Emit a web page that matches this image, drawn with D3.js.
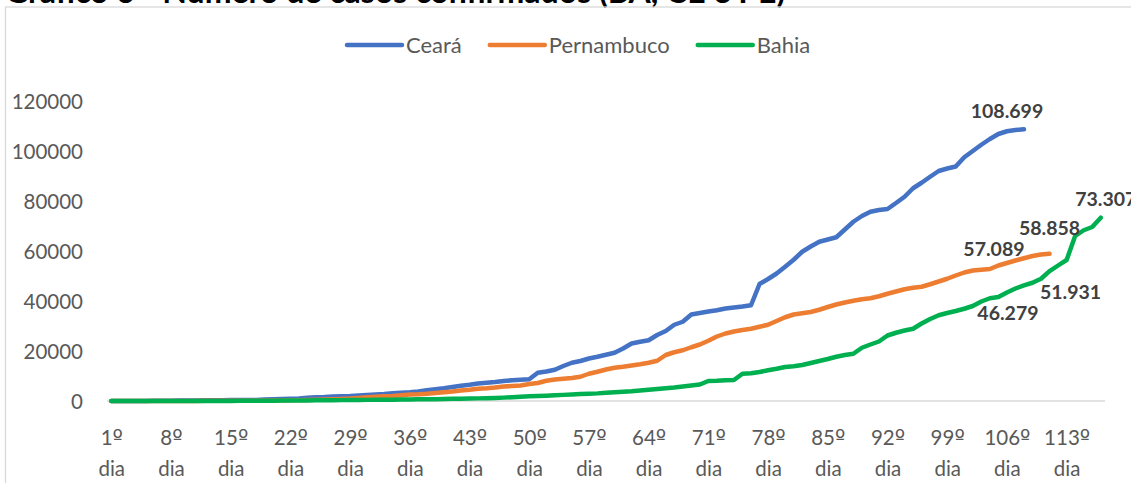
<!DOCTYPE html>
<html>
<head>
<meta charset="utf-8">
<script src="https://cdn.jsdelivr.net/npm/d3@7"></script>
<style>
  html, body { margin: 0; padding: 0; background: #ffffff; }
  svg { display: block; }
  text { font-family: Lato, "Open Sans", sans-serif; }
</style>
</head>
<body>
<svg id="chart" width="1131" height="483"></svg>
<script>
// Dias desde o primeiro caso (eixo de categorias)
const days = d3.range(1, 118);

// Rótulos do eixo X (a cada 7 dias)
const tickDays = [1, 8, 15, 22, 29, 36, 43, 50, 57, 64, 71, 78, 85, 92, 99, 106, 113];
const tickLabels = ["1º", "8º", "15º", "22º", "29º", "36º", "43º", "50º", "57º",
                    "64º", "71º", "78º", "85º", "92º", "99º", "106º", "113º"];
const tickSuffix = "dia";

// Rótulos do eixo Y
const yTicks = [0, 20000, 40000, 60000, 80000, 100000, 120000];

const seriesNames = ["Ceará", "Pernambuco", "Bahia"];
const seriesColors = ["#4472C4", "#ED7D31", "#00B050"];

// Casos confirmados acumulados por dia
const ceara = [
  3, 9, 10, 20, 24, 68, 84, 125, 163, 200,
  235, 282, 314, 348, 372, 390, 400, 445, 560, 700,
  820, 950, 1050, 1300, 1500, 1600, 1800, 1900, 2000, 2200,
  2400, 2600, 2800, 3100, 3300, 3500, 3800, 4300, 4700, 5100,
  5600, 6100, 6500, 7000, 7300, 7600, 8000, 8300, 8500, 8700,
  11300, 11800, 12500, 14000, 15300, 16000, 17000, 17700, 18500, 19300,
  21000, 23000, 23700, 24300, 26400, 28000, 30500, 31700, 34600, 35200,
  35800, 36300, 37000, 37400, 37800, 38300, 46800, 48800, 51000, 53700,
  56500, 59700, 61800, 63700, 64600, 65500, 68600, 71700, 74000, 75700,
  76400, 76800, 79200, 81700, 85100, 87300, 89700, 92000, 93000, 93800,
  97500, 100000, 102500, 104800, 106800, 107900, 108400, 108699
];

const pernambuco = [
  2, 2, 7, 16, 18, 28, 30, 33, 37, 42,
  46, 56, 68, 73, 78, 85, 97, 102, 130, 160,
  220, 300, 350, 400, 480, 560, 690, 800, 960, 1200,
  1500, 1700, 1900, 2000, 2300, 2600, 2700, 2900, 3200, 3500,
  3800, 4200, 4500, 4900, 5100, 5400, 5800, 6000, 6200, 6800,
  7200, 8100, 8600, 8900, 9200, 9700, 10900, 11700, 12600, 13300,
  13700, 14200, 14700, 15300, 16100, 18400, 19500, 20300, 21500, 22600,
  24100, 25800, 27000, 27800, 28400, 28900, 29700, 30500, 32000, 33500,
  34600, 35100, 35600, 36500, 37600, 38600, 39400, 40100, 40700, 41100,
  41900, 42900, 43800, 44700, 45300, 45700, 46700, 47800, 48900, 50200,
  51400, 52200, 52500, 52800, 54200, 55200, 56200, 57089, 58000, 58600,
  58858
];

const bahia = [
  1, 1, 2, 2, 2, 3, 3, 3, 3, 7,
  9, 16, 27, 30, 37, 55, 76, 98, 115, 131,
  158, 176, 200, 233, 260, 295, 316, 350, 380, 420,
  450, 480, 500, 530, 580, 620, 660, 700, 740, 800,
  860, 920, 980, 1050, 1120, 1230, 1350, 1500, 1700, 1880,
  2000, 2100, 2260, 2450, 2600, 2760, 2900, 3050, 3300, 3500,
  3700, 3900, 4200, 4500, 4800, 5100, 5400, 5800, 6200, 6600,
  8000, 8100, 8300, 8400, 10900, 11100, 11600, 12300, 12900, 13600,
  13900, 14400, 15200, 16000, 16800, 17700, 18400, 18900, 21300, 22600,
  23800, 26200, 27300, 28200, 28900, 31000, 32800, 34300, 35200, 36000,
  36900, 38000, 39800, 41100, 41600, 43400, 45000, 46279, 47300, 48900,
  51931, 54200, 56400, 66000, 68300, 69600, 73307
];

const seriesValues = [ceara, pernambuco, bahia];

// Pontos com rótulo de valor: [índice da série, dia]
const labelSeries = [0, 1, 1, 2, 2, 2];
const labelDays   = [108, 108, 111, 108, 111, 117];
// deslocamento do rótulo em relação ao ponto
const labelDx = [-17, -30, 0, -16, 21, 5];
const labelDy = [-11, -2, -19, 35, 28, -12];

const svg = d3.select("#chart");
const W = 1131, H = 483;
const FONT = "Lato, 'Open Sans', sans-serif";

// Título (parcialmente fora da área visível)
svg.append("text")
  .attr("x", 5).attr("y", 2.5)
  .attr("font-family", "'Liberation Sans', Arial, sans-serif")
  .attr("font-weight", "bold")
  .attr("font-size", 32)
  .attr("fill", "#000")
  .text("Gráfico 6 - Número de casos confirmados (BA, CE e PE)");

// Moldura da área do gráfico
svg.append("rect")
  .attr("x", 5.5).attr("y", 7)
  .attr("width", W + 20).attr("height", H + 20)
  .attr("fill", "none")
  .attr("stroke", "#d9d9d9")
  .attr("stroke-width", 1.3);

const x = d3.scalePoint().domain(days).range([107, 1105]).padding(0.5);
const y = d3.scaleLinear().domain([0, 120000]).range([401, 101]);

// Linha de base do eixo X
svg.append("line")
  .attr("x1", 107).attr("x2", 1105)
  .attr("y1", y(0)).attr("y2", y(0))
  .attr("stroke", "#d9d9d9").attr("stroke-width", 1.5);

// Eixo Y (somente rótulos)
const yAxis = d3.axisLeft(y).tickValues(yTicks).tickSize(0).tickPadding(0)
  .tickFormat(d3.format("d"));
const gy = svg.append("g").attr("transform", "translate(83,0)").call(yAxis);
gy.select(".domain").remove();
gy.selectAll("text")
  .attr("font-family", FONT)
  .attr("font-size", 20.5)
  .attr("fill", "#595959")
  .attr("dy", "0.35em");

// Eixo X: rótulos em duas linhas
const xAxis = d3.axisBottom(x).tickValues(tickDays).tickSize(0).tickFormat(() => "");
const gx = svg.append("g").attr("transform", `translate(0,${y(0)})`).call(xAxis);
gx.select(".domain").remove();
gx.selectAll(".tick text").remove();
gx.selectAll(".tick").each(function(d) {
  const i = tickDays.indexOf(d);
  const label = tickLabels[i];
  const t = d3.select(this).append("text")
    .attr("text-anchor", "middle")
    .attr("font-family", FONT)
    .attr("font-size", 20.5)
    .attr("fill", "#595959");
  const first = t.append("tspan").attr("x", 0).attr("y", 44);
  first.append("tspan").text(label.replace("º", ""));
  first.append("tspan")
    .attr("font-family", "'DejaVu Sans', 'Liberation Sans', sans-serif")
    .attr("font-size", 22)
    .text("º");
  t.append("tspan").attr("x", 0).attr("y", 75).text(tickSuffix);
});

// Linhas das séries
const line = d3.line()
  .x((v, i) => x(days[i]))
  .y(v => y(v));

seriesValues.forEach((vals, s) => {
  svg.append("path")
    .datum(vals)
    .attr("d", line)
    .attr("fill", "none")
    .attr("stroke", seriesColors[s])
    .attr("stroke-width", 4.5)
    .attr("stroke-linejoin", "round")
    .attr("stroke-linecap", "round");
});

// Rótulos de valores
const ptBR = d3.formatLocale({ decimal: ",", thousands: ".", grouping: [3], currency: ["R$", ""] });
const fmt = ptBR.format(",d");

labelSeries.forEach((s, k) => {
  const d = labelDays[k];
  const v = seriesValues[s][d - 1];
  svg.append("text")
    .attr("x", x(d) + labelDx[k])
    .attr("y", y(v) + labelDy[k])
    .attr("text-anchor", "middle")
    .attr("font-family", FONT)
    .attr("font-weight", "bold")
    .attr("font-size", 19.5)
    .attr("fill", "#404040")
    .text(fmt(v));
});

// Legenda
const legend = svg.append("g");
let lx = 347;
seriesNames.forEach((name, s) => {
  legend.append("line")
    .attr("x1", lx).attr("x2", lx + 55)
    .attr("y1", 45).attr("y2", 45)
    .attr("stroke", seriesColors[s])
    .attr("stroke-width", 4.5)
    .attr("stroke-linecap", "round");
  const t = legend.append("text")
    .attr("x", lx + 59).attr("y", 45)
    .attr("dy", "0.35em")
    .attr("font-family", FONT)
    .attr("font-size", 22)
    .attr("fill", "#595959")
    .text(name);
  lx += 59 + t.node().getComputedTextLength() + 28;
});
</script>
</body>
</html>
